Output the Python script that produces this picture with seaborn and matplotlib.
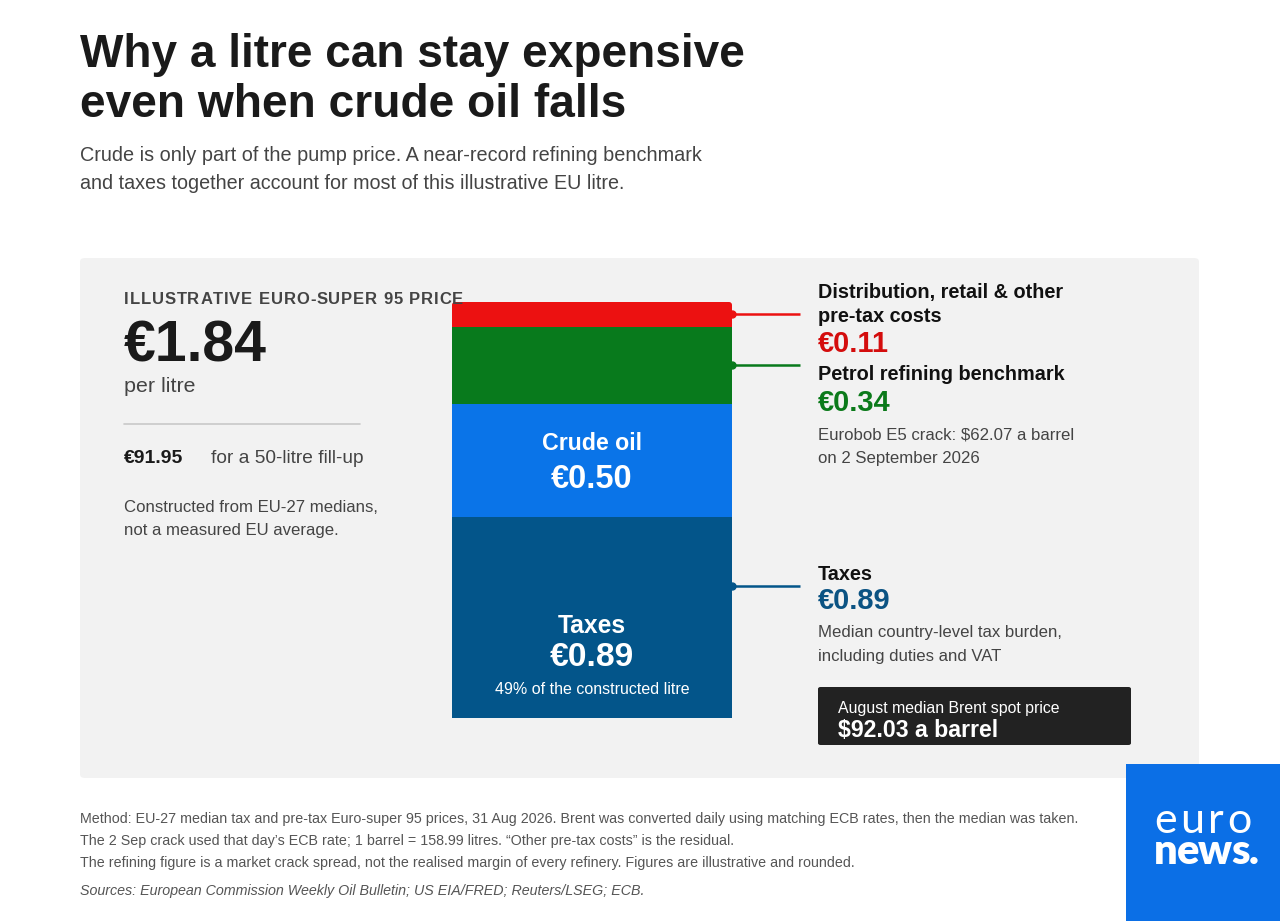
import numpy as np
import pandas as pd
import matplotlib
matplotlib.use("Agg")
import matplotlib.pyplot as plt
from matplotlib.patches import FancyBboxPatch, Rectangle
import seaborn as sns

# ---------------- data ----------------
components = ["Taxes", "Crude oil", "Petrol refining benchmark",
              "Distribution, retail & other pre-tax costs"]
values = [0.89, 0.50, 0.34, 0.11]
bar_colors = ["#03558a", "#0a74e8", "#087a1c", "#ec1111"]
value_colors = ["#0b5383", None, "#0b7a1a", "#d40d0d"]
total_price = 1.84
fillup_litres = 50
fillup_cost = 91.95
tax_share = 49
brent_price = 92.03
crack_price = 62.07

sns.set_theme(style="white")
plt.rcParams["font.family"] = ["Liberation Sans", "DejaVu Sans"]

W, H = 1280, 921
fig = plt.figure(figsize=(W / 100, H / 100), dpi=100, facecolor="white")
renderer = fig.canvas.get_renderer()


def fx(x):
    return x / W


def fy(y):
    return 1 - y / H


def T(x, y, s, size, target=None, ha="left", **kw):
    t = fig.text(fx(x), fy(y), s, fontsize=size, ha=ha, va="baseline", **kw)
    if target is not None:
        w = t.get_window_extent(renderer).width
        t.set_fontsize(size * target / w)
    return t


def spaced(x, y, s, size, target, **kw):
    # letter-spaced text: glyphs placed one by one, spacing chosen to reach target width
    widths = []
    for ch in s:
        if ch == " ":
            widths.append(size * 0.278 * 100 / 72)
            continue
        t = fig.text(0, 0, ch, fontsize=size, **kw)
        widths.append(t.get_window_extent(renderer).width)
        t.remove()
    gap = (target - sum(widths)) / (len(s) - 1)
    cx = x
    for ch, w in zip(s, widths):
        if ch != " ":
            fig.text(fx(cx), fy(y), ch, fontsize=size, ha="left", va="baseline", **kw)
        cx += w + gap


# background panel
fig.patches.append(FancyBboxPatch((fx(80), fy(778)), fx(1199) - fx(80), fy(258) - fy(778),
                                  boxstyle="round,pad=0,rounding_size=0.004",
                                  transform=fig.transFigure, facecolor="#f2f2f2",
                                  edgecolor="none", zorder=-2))

# Title & subtitle
T(80, 67, "Why a litre can stay expensive", 33, target=665, weight="bold", color="#1a1a1a")
T(80, 117, "even when crude oil falls", 33, target=547, weight="bold", color="#1a1a1a")
T(80, 161, "Crude is only part of the pump price. A near-record refining benchmark", 14,
  target=624, color="#444444")
T(80, 189, "and taxes together account for most of this illustrative EU litre.", 14,
  target=546, color="#444444")

# Left block
spaced(124, 304, "ILLUSTRATIVE EURO-SUPER 95 PRICE", 12, 339, weight="bold", color="#444444")
T(124, 362, f"€{total_price:.2f}", 40, target=143, weight="bold", color="#1a1a1a")
T(124, 392, "per litre", 14, target=72, color="#444444")
fig.add_artist(plt.Line2D([fx(124), fx(360)], [fy(424), fy(424)], color="#c8c8c8", lw=1.2))
T(124, 463, f"€{fillup_cost:.2f}", 13, target=59, weight="bold", color="#1a1a1a")
T(211, 463, f"for a {fillup_litres}-litre fill-up", 13, target=153, color="#444444")
t1 = T(124, 512, "Constructed from EU-27 medians,", 12, target=253, color="#444444")
T(124, 535, "not a measured EU average.", t1.get_fontsize(), color="#444444")

# ---------------- stacked bar ----------------
ax = fig.add_axes([fx(452), fy(718), fx(732) - fx(452), fy(302) - fy(718)])
ax.set_zorder(1)
ax.patch.set_alpha(0)
cum = np.cumsum(values)
for i in reversed(range(len(values))):
    df = pd.DataFrame({"item": ["litre"], "value": [cum[i]]})
    sns.barplot(data=df, x="item", y="value", color=bar_colors[i], saturation=1,
                width=0.8, linewidth=0, errorbar=None, ax=ax)
ax.set_xlim(-0.4, 0.4)
ax.set_ylim(0, cum[-1])
ax.axis("off")

# round the top corners of the top segment
top = ax.patches[0]
bx, by, bw, bh = top.get_x(), top.get_y(), top.get_width(), top.get_height()
top.set_visible(False)
px_x = 0.8 / 280
px_y = cum[-1] / 416
ax.add_patch(FancyBboxPatch((bx, by), bw, bh,
                            boxstyle=f"round,pad=0,rounding_size={3 * px_x}",
                            mutation_aspect=px_y / px_x, facecolor=bar_colors[3],
                            edgecolor="none", zorder=0.5))

# connectors
x0, x1 = 0.4, 0.4 + (800 - 732) / 280 * 0.8
conn_y = [values[0] * 0.657, cum[1] - values[1] / 2,
          cum[2] - values[2] / 2, cum[3] - values[3] / 2]
for i in [0, 2, 3]:
    ax.plot([x0, x1], [conn_y[i], conn_y[i]], color=bar_colors[i], lw=1.8,
            clip_on=False, solid_capstyle="butt", zorder=3)
    ax.plot([x0], [conn_y[i]], marker="o", ms=5, color=bar_colors[i], clip_on=False, zorder=3)

# labels inside bar
T(592, 450, "Crude oil", 16, target=100, ha="center", weight="bold", color="white", zorder=5)
T(592, 488, f"€{values[1]:.2f}", 24, target=82, ha="center", weight="bold", color="white", zorder=5)
T(592, 633, "Taxes", 16, target=68, ha="center", weight="bold", color="white", zorder=5)
T(592, 666, f"€{values[0]:.2f}", 24, target=84, ha="center", weight="bold", color="white", zorder=5)
T(592, 694, f"{tax_share}% of the constructed litre", 11, target=194, ha="center", color="white", zorder=5)

# right labels
hs = T(818, 298, "Distribution, retail & other", 14, target=246, weight="bold", color="#111111").get_fontsize()
T(818, 322, "pre-tax costs", hs, weight="bold", color="#111111")
vs = T(818, 352, f"€{values[3]:.2f}", 20, target=71, weight="bold", color=value_colors[3]).get_fontsize()
T(818, 380, "Petrol refining benchmark", hs, weight="bold", color="#111111")
T(818, 411, f"€{values[2]:.2f}", vs, weight="bold", color=value_colors[2])
ns = T(818, 439, f"Eurobob E5 crack: ${crack_price:.2f} a barrel", 12, target=255, color="#444444").get_fontsize()
T(818, 463, "on 2 September 2026", ns, color="#444444")
T(818, 580, "Taxes", hs, weight="bold", color="#111111")
T(818, 609, f"€{values[0]:.2f}", vs, weight="bold", color=value_colors[0])
T(818, 637, "Median country-level tax burden,", ns, color="#444444")
T(818, 661, "including duties and VAT", ns, color="#444444")

# Brent box
fig.patches.append(FancyBboxPatch((fx(818), fy(745)), fx(1131) - fx(818), fy(687) - fy(745),
                                  boxstyle="round,pad=0,rounding_size=0.002",
                                  transform=fig.transFigure, facecolor="#222222",
                                  edgecolor="none", zorder=1))
T(838, 713, "August median Brent spot price", 12, target=223, color="white", zorder=2)
T(838, 737, f"${brent_price:.2f} a barrel", 17, target=161, weight="bold", color="white", zorder=2)

# Footer
fs = T(80, 823, "Method: EU-27 median tax and pre-tax Euro-super 95 prices, 31 Aug 2026. Brent was converted daily "
       "using matching ECB rates, then the median was taken.", 10.5, target=1000, color="#555555").get_fontsize()
T(80, 845, "The 2 Sep crack used that day\u2019s ECB rate; 1 barrel = 158.99 litres. \u201cOther pre-tax costs\u201d is the residual.",
  fs, color="#555555")
T(80, 867, "The refining figure is a market crack spread, not the realised margin of every refinery. "
   "Figures are illustrative and rounded.", fs, color="#555555")
T(80, 895, "Sources: European Commission Weekly Oil Bulletin; US EIA/FRED; Reuters/LSEG; ECB.", fs,
  style="italic", color="#555555")

# Logo
fig.patches.append(Rectangle((fx(1126), 0), 1 - fx(1126), fy(764), transform=fig.transFigure,
                             facecolor="#0b6fe6", edgecolor="none", zorder=1))
spaced(1154, 833, "euro", 31, 98, color="white", weight="normal",
       family=["Lato", "DejaVu Sans"], zorder=2)
spaced(1154, 864, "news.", 30, 105, color="white", weight="heavy",
       family=["Lato", "DejaVu Sans"], zorder=2)

fig.savefig("out.png", dpi=100, facecolor="white")
